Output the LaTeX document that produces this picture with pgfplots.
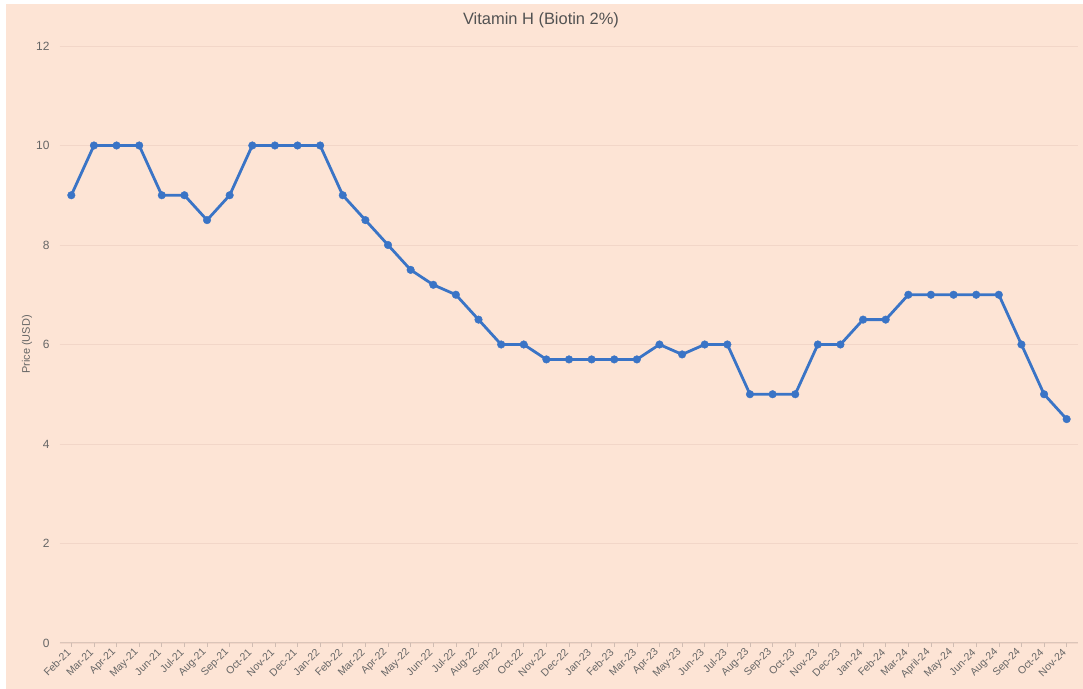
\documentclass[border=0pt]{standalone}
\usepackage{pgfplots}
\pgfplotsset{compat=1.18}
\usepackage{fontspec}
\setmainfont{Liberation Sans}

\definecolor{peach}{HTML}{FDE4D5}
\definecolor{gridc}{HTML}{F2D6C8}
\definecolor{linec}{HTML}{3A74C6}
\definecolor{txt}{HTML}{666666}

\begin{document}
\begin{tikzpicture}[x=1bp,y=1bp]
  % page: 1083 x 689 px, plot area from (60,46) to (1078,643) px
  \fill[white] (-60,-46) rectangle (1023,643);
  \fill[peach] (-54,-46) rectangle (1023,639);
  \useasboundingbox (-60,-46) rectangle (1023,643);

  \begin{axis}[
      at={(0,0)}, anchor=south west,
      scale only axis,
      width=1018bp, height=597bp,
      xmin=-0.5, xmax=44.5,
      ymin=0, ymax=12,
      ytick={0,2,...,12},
      xtick={0,...,44},
      xticklabels={Feb-21,Mar-21,Apr-21,May-21,Jun-21,Jul-21,Aug-21,Sep-21,Oct-21,Nov-21,Dec-21,Jan-22,
        Feb-22,Mar-22,Apr-22,May-22,Jun-22,Jul-22,Aug-22,Sep-22,Oct-22,Nov-22,Dec-22,Jan-23,
        Feb-23,Mar-23,Apr-23,May-23,Jun-23,Jul-23,Aug-23,Sep-23,Oct-23,Nov-23,Dec-23,Jan-24,
        Feb-24,Mar-24,April-24,May-24,Jun-24,Aug-24,Sep-24,Oct-24,Nov-24},
      axis line style={draw=none},
      ymajorgrids,
      grid style={gridc, line width=0.8bp},
      extra y ticks={0},
      extra y tick style={grid style={gridc!80!gray, line width=1bp}, yticklabels={}},
      tick align=outside,
      tick pos=left,
      xtick style={gridc!70!gray, line width=0.6bp},
      major tick length=4bp,
      ytick style={draw=none},
      ticklabel style={text=txt},
      yticklabel style={font=\fontsize{12}{14}\selectfont, xshift=-3bp},
      xticklabel style={font=\fontsize{10.5}{12}\selectfont, rotate=45, anchor=east, xshift=-1bp, yshift=-1bp},
      /pgf/number format/assume math mode=true,
      ylabel={Price (USD)},
      ylabel style={at={(axis description cs:-0.0324,0.5)}, anchor=center, text=txt,
        font=\fontsize{11}{13}\selectfont},
    ]
    \addplot[linec, line width=2.8bp, mark=*, mark size=3.8bp,
      mark options={fill=linec, draw=linec, line width=0.4bp}]
      table {
        x y
        0 9
        1 10
        2 10
        3 10
        4 9
        5 9
        6 8.5
        7 9
        8 10
        9 10
        10 10
        11 10
        12 9
        13 8.5
        14 8
        15 7.5
        16 7.2
        17 7
        18 6.5
        19 6
        20 6
        21 5.7
        22 5.7
        23 5.7
        24 5.7
        25 5.7
        26 6
        27 5.8
        28 6
        29 6
        30 5
        31 5
        32 5
        33 6
        34 6
        35 6.5
        36 6.5
        37 7
        38 7
        39 7
        40 7
        41 7
        42 6
        43 5
        44 4.5
      };
  \end{axis}

  \node[text=txt!80!black, font=\fontsize{16.5}{19}\selectfont] at (481,623) {Vitamin H (Biotin 2\%)};
\end{tikzpicture}
\end{document}
